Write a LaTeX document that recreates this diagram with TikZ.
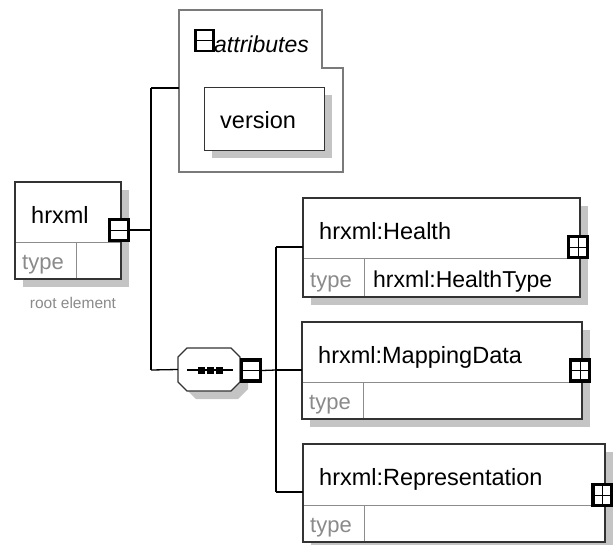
\documentclass[tikz,border=0pt]{standalone}
\usepackage{fontspec}
\setmainfont{Liberation Sans}
\begin{document}
\begin{tikzpicture}[x=1pt,y=-1pt,
  dropshade/.style={fill=shadowgray, draw=none},
  elbox/.style={draw=boxline, line width=1.4pt, fill=white, inner sep=0pt, anchor=north west},
  divline/.style={draw=dividegray, line width=1pt},
  conn/.style={draw=black, line width=1.3pt},
  pmbox/.style={draw=black, line width=3.2pt, fill=white, inner sep=0pt, minimum width=19pt, minimum height=21pt},
  pmline/.style={draw=black, line width=0.9pt},
  titletext/.style={anchor=base west, inner sep=0pt, font=\fontsize{23.5}{27}\selectfont},
  typetext/.style={anchor=base west, inner sep=0pt, text=typegray, font=\fontsize{22}{25}\selectfont},
  valtext/.style={anchor=base west, inner sep=0pt, font=\fontsize{23}{26}\selectfont},
]
\definecolor{shadowgray}{HTML}{C4C4C4}
\definecolor{boxline}{HTML}{333333}
\definecolor{dividegray}{HTML}{8C8C8C}
\definecolor{typegray}{HTML}{8A8A8A}
\definecolor{attrline}{HTML}{7A7A7A}

\useasboundingbox (0,0) rectangle (613,544);

% element macro: #1 name, #2 x, #3 y, #4 w, #5 h, #6 top height, #7 title, #8 type value
\newcommand\xsdelem[8]{%
  \fill[dropshade] (#2+8,#3+8) rectangle (#2+#4+8,#3+#5+8);
  \node[elbox, minimum width=#4pt, minimum height=#5pt] (#1) at (#2,#3) {};
  \draw[divline] (#2,#3+#6) -- (#2+#4,#3+#6);
  \draw[divline] (#2+61,#3+#6) -- (#2+61,#3+#5);
  \draw[draw=boxline, line width=1.4pt] (#2,#3) rectangle (#2+#4,#3+#5);
  \node[titletext] (#1title) at (#2+16,#3+41) {#7};
  \node[typetext] (#1type) at (#2+7,#3+#5-10) {type};
  \node[valtext] (#1val) at (#2+70,#3+#5-10) {#8};
}
% plus / minus boxes
\newcommand\xsdplus[3]{%
  \node[pmbox] (#1) at (#2,#3) {};
  \draw[pmline] ([xshift=1.6pt]#1.west) -- ([xshift=-1.6pt]#1.east);
  \draw[pmline] ([yshift=-1.6pt]#1.north) -- ([yshift=1.6pt]#1.south);
}
\newcommand\xsdminus[3]{%
  \node[pmbox] (#1) at (#2,#3) {};
  \draw[pmline] ([xshift=1.6pt]#1.west) -- ([xshift=-1.6pt]#1.east);
}

% ---------- root element ----------
\xsdelem{root}{15}{182}{106}{97}{60}{hrxml}{}
\xsdminus{rootpm}{119}{230}
\node[anchor=base, inner sep=0pt, text=typegray, font=\fontsize{15.5}{18}\selectfont] (rootlabel) at (73,308) {root element};

% ---------- attributes group ----------
\draw[draw=attrline, line width=1.2pt, fill=white]
  (179,10) -- (322,10) -- (322,68) -- (343,68) -- (343,172) -- (179,172) -- cycle;
\node[inner sep=0pt, minimum width=180pt, minimum height=162pt, anchor=north west] (attrs) at (179,10) {};
\node[draw=black, line width=2.2pt, fill=white, inner sep=0pt, minimum width=18pt, minimum height=21pt] (attrpm) at (204.5,40.5) {};
\draw[line width=1pt] ([xshift=1pt]attrpm.west) -- ([xshift=-1pt]attrpm.east);
\node[anchor=base west, inner sep=0pt, font=\itshape\fontsize{23}{26}\selectfont] (attrtitle) at (214,52) {attributes};

\fill[dropshade] (212,95) rectangle (332,158);
\node[elbox, minimum width=120pt, minimum height=63pt] (version) at (204,87) {};
\node[titletext] (versiontext) at (220,128) {version};

% ---------- sequence compositor ----------
\node[inner sep=0pt, minimum width=62pt, minimum height=43pt] (seq) at (209,369.5) {};
\fill[dropshade] (196,356) -- (238,356) -- (248,366) -- (248,389) -- (238,399) -- (196,399) -- (186,389) -- (186,366) -- cycle;
\draw[draw=boxline, line width=1.4pt, fill=white]
  (187,348) -- (231,348) -- (240,357) -- (240,382) -- (231,391) -- (187,391) -- (178,382) -- (178,357) -- cycle;
\xsdminus{seqpm}{251}{370.5}
\coordinate (seqin1) at (187,370);
\coordinate (seqin2) at (233,370);
\draw[line width=1.3pt] (seqin1) -- (seqin2);
\fill[black] (198,366.5) rectangle (205,373.5);
\fill[black] (207,366.5) rectangle (214,373.5);
\fill[black] (216,366.5) rectangle (223,373.5);

% ---------- child elements ----------
\xsdelem{health}{303}{198}{277}{99}{60}{hrxml:Health}{hrxml:HealthType}
\xsdplus{healthpm}{578}{247}
\xsdelem{mapping}{302}{322}{280}{97}{60}{hrxml:MappingData}{}
\xsdplus{mappingpm}{580}{370.5}
\xsdelem{repr}{303}{444}{302}{98}{61}{hrxml:Representation}{}
\xsdplus{reprpm}{602.5}{495}

% ---------- connectors ----------
\coordinate (spineA) at (151,230);
\coordinate (spineTop) at (151,88);
\coordinate (spineBot) at (151,370);
\draw[conn] (rootpm.east) -- (spineA);
\draw[conn] (spineTop) -- (spineBot);
\draw[conn] (spineTop) -- (attrs.west |- spineTop);
\draw[conn] (spineBot) -- (seq.west);

\coordinate (spineB) at (276,370);
\coordinate (spineBtop) at (276,247);
\coordinate (spineBbot) at (276,492);
\draw[conn] (seqpm.east) -- (spineB);
\draw[conn] (spineBtop) -- (spineBbot);
\draw[conn] (spineBtop) -- (health.west |- spineBtop);
\draw[conn] (spineB) -- (mapping.west |- spineB);
\draw[conn] (spineBbot) -- (repr.west |- spineBbot);
\end{tikzpicture}
\end{document}
